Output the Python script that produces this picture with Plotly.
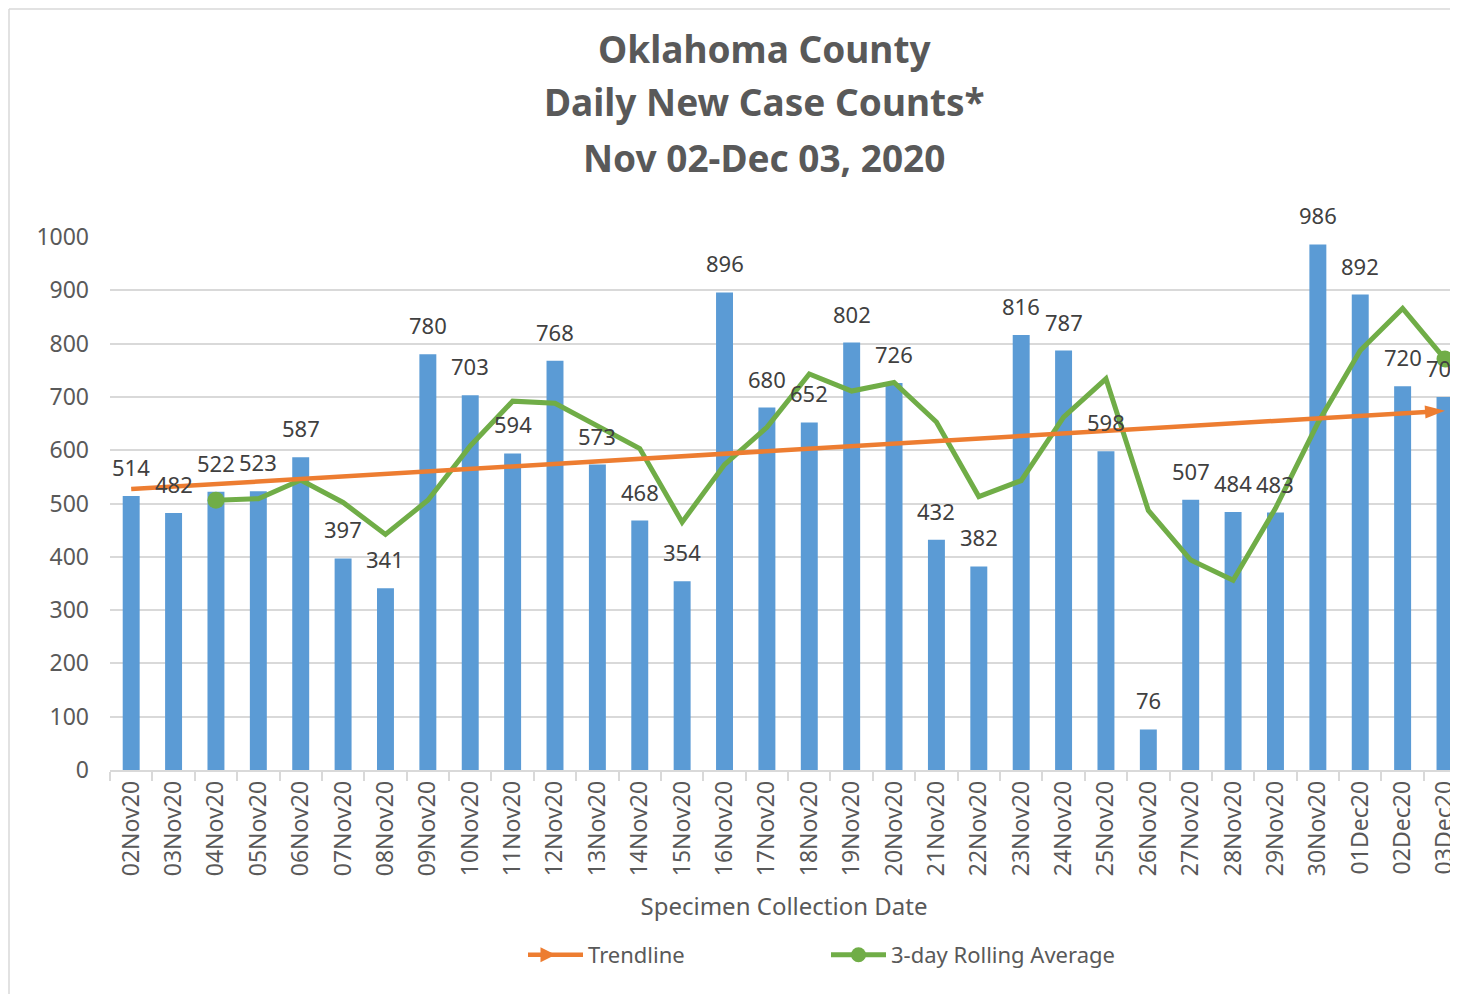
import plotly.graph_objects as go

dates = ["02Nov20", "03Nov20", "04Nov20", "05Nov20", "06Nov20", "07Nov20", "08Nov20",
         "09Nov20", "10Nov20", "11Nov20", "12Nov20", "13Nov20", "14Nov20", "15Nov20",
         "16Nov20", "17Nov20", "18Nov20", "19Nov20", "20Nov20", "21Nov20", "22Nov20",
         "23Nov20", "24Nov20", "25Nov20", "26Nov20", "27Nov20", "28Nov20", "29Nov20",
         "30Nov20", "01Dec20", "02Dec20", "03Dec20"]
cases = [514, 482, 522, 523, 587, 397, 341, 780, 703, 594, 768, 573, 468, 354,
         896, 680, 652, 802, 726, 432, 382, 816, 787, 598, 76, 507, 484, 483,
         986, 892, 720, 700]
rolling_avg = [None, None, 506, 509, 544, 502, 442, 506, 608, 692, 688, 645, 603, 465,
               573, 643, 743, 711, 727, 653, 513, 543, 662, 734, 487, 394, 356, 491,
               651, 787, 866, 771]
trend_x = [dates[0], dates[-1]]
trend_y = [527, 674]

title_lines = ["Oklahoma County", "Daily New Case Counts*", "Nov 02-Dec 03, 2020"]

FONT = "Noto Sans"
GRAY = "#595959"
BLUE = "#5B9BD5"
ORANGE = "#ED7D31"
GREEN = "#70AD47"
GRID = "#D9D9D9"

# page body has an 8px margin; lay out in reference-image pixels
OFF = 8
W, H = 1458 - OFF, 994 - OFF
L = 110 - OFF
T = 237 - OFF
B = H - (770 - OFF)
R = 0
pw, ph = W - L - R, H - T - B


def px_x(p):
    return (p - OFF - L) / pw


def px_y(p):
    return (H - B - (p - OFF)) / ph


fig = go.Figure()

fig.add_trace(go.Bar(
    x=dates, y=cases, width=0.4, marker_color=BLUE, marker_line_width=0,
    showlegend=False, hoverinfo="x+y"))

valid = [i for i, v in enumerate(rolling_avg) if v is not None]
msize = [0] * len(rolling_avg)
msize[valid[0]] = 17
msize[valid[-1]] = 17
fig.add_trace(go.Scatter(
    x=dates, y=rolling_avg, mode="lines+markers", line=dict(color=GREEN, width=5),
    marker=dict(size=msize, color=GREEN, opacity=1, line=dict(width=0)),
    showlegend=False, cliponaxis=False))

fig.add_trace(go.Scatter(
    x=trend_x, y=trend_y, mode="lines+markers", line=dict(color=ORANGE, width=4.5),
    marker=dict(symbol=["circle", "arrow"], size=[0, 21], angleref="previous",
                color=ORANGE, opacity=1, line=dict(width=0)),
    showlegend=False, cliponaxis=False))

# legend entries
fig.add_trace(go.Scatter(
    x=[None], y=[None], mode="lines+markers", name="Trendline",
    line=dict(color=ORANGE, width=4.5),
    marker=dict(symbol="arrow-right", size=15, color=ORANGE, line=dict(width=0))))
fig.add_trace(go.Scatter(
    x=[None], y=[None], mode="lines+markers", name="3-day Rolling Average",
    line=dict(color=GREEN, width=5), marker=dict(size=15, color=GREEN, line=dict(width=0))))

annotations = []
for d, v in zip(dates, cases):
    annotations.append(dict(
        text=str(v), x=d, y=v, xref="x", yref="y", showarrow=False,
        xanchor="center", yanchor="bottom", yshift=12,
        font=dict(family=FONT, size=22, color="#404040")))

for line, ypx in zip(title_lines, [48, 102, 157]):
    annotations.append(dict(
        text="<b>" + line + "</b>", x=px_x(764), y=px_y(ypx), xref="paper", yref="paper",
        showarrow=False, xanchor="center", yanchor="middle",
        font=dict(family=FONT, size=37, color=GRAY)))

shapes = [
    dict(type="line", xref="paper", yref="paper", x0=px_x(9), x1=px_x(9),
         y0=px_y(9), y1=px_y(994), line=dict(color=GRID, width=1.5)),
    dict(type="line", xref="paper", yref="paper", x0=px_x(9), x1=px_x(1458),
         y0=px_y(9), y1=px_y(9), line=dict(color=GRID, width=1.5)),
]

fig.update_layout(
    width=W, height=H,
    margin=dict(l=L, r=R, t=T, b=B),
    paper_bgcolor="white", plot_bgcolor="white",
    font=dict(family=FONT, color=GRAY),
    annotations=annotations, shapes=shapes,
    legend=dict(orientation="h", x=px_x(826), y=px_y(955), xanchor="center",
                yanchor="middle", font=dict(family=FONT, size=22, color=GRAY),
                entrywidth=233, itemwidth=55, bgcolor="rgba(0,0,0,0)"),
)

fig.update_xaxes(
    type="category", range=[-0.5, (1458 - 131) / ((1445 - 131) / 31)],
    tickangle=-90, tickfont=dict(family=FONT, size=23, color=GRAY),
    showline=True, linecolor=GRID, linewidth=1.5,
    ticks="outside", ticklen=9, tickcolor=GRID, tickwidth=1.5, tickson="boundaries",
    showgrid=False,
    title=dict(text="Specimen Collection Date", standoff=23,
               font=dict(family=FONT, size=24, color=GRAY)))

fig.update_yaxes(
    range=[0, 1000], dtick=100, showgrid=True, gridcolor=GRID, gridwidth=1.5,
    tickfont=dict(family=FONT, size=23, color=GRAY), zeroline=False,
    ticklabelstandoff=20, showline=False)

fig.write_html("out.html")
